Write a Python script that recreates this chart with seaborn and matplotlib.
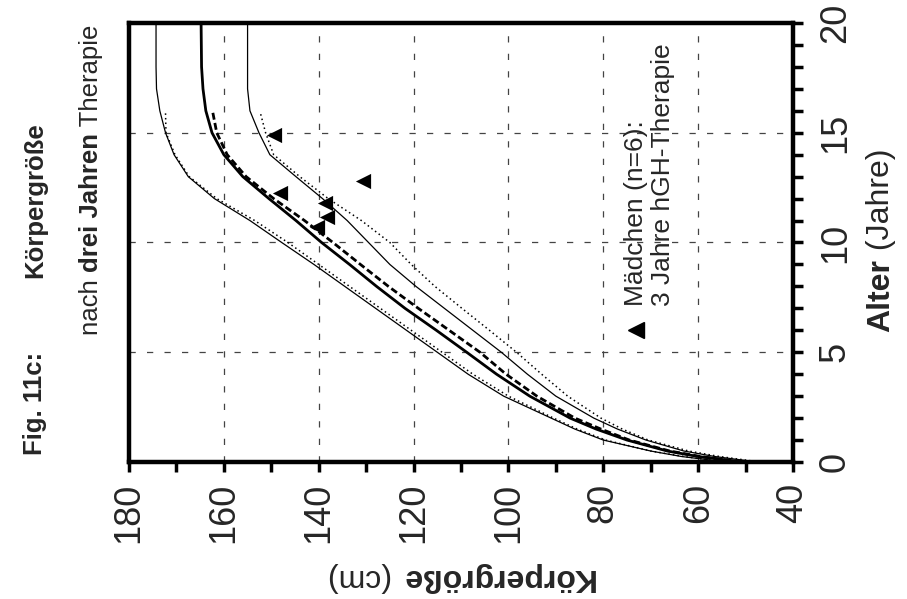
import numpy as np
import pandas as pd
import matplotlib
matplotlib.use("Agg")
import matplotlib.pyplot as plt
import seaborn as sns
from matplotlib.ticker import MultipleLocator
from matplotlib.font_manager import FontProperties

# ---------------- data (age in years, height in cm) ----------------
age_full = [0, 0.25, 0.5, 1, 1.5, 2, 3, 4, 5, 6, 7, 8, 9, 10, 11, 12, 13, 14, 15, 16, 17, 18, 20]
p97 = [54, 63.5, 70, 80, 86, 91, 101, 108.5, 115, 121.5, 128, 134.5, 141, 147.8, 154.5, 162, 167.5,
       170.5, 172.3, 173.5, 174.2, 174.3, 174.3]
p50 = [50.5, 60, 66.5, 75, 81.5, 87, 95.5, 102.5, 108.8, 115.2, 121.8, 127.8, 133.5, 139.4, 144.8,
       150.5, 156, 160, 162.5, 163.8, 164.4, 164.7, 164.8]
p3 = [47.5, 56.5, 63, 71, 77, 82, 90, 96, 101.5, 107.5, 113.5, 119.5, 125, 129.5, 134, 139.2, 144.8,
      150.3, 152.6, 154.5, 155, 155, 155]

age_dash = [0, 0.25, 0.5, 1, 1.5, 2, 3, 4, 5, 6, 7, 8, 9, 10, 11, 12, 13, 14, 15, 16]
mean_dash = [51, 59.5, 66, 74.5, 80.5, 86, 94, 100.5, 106, 112.5, 119, 125.3, 131.2, 137, 143, 149.5,
             155.3, 159.3, 161.5, 162.4]

age_dot = [0, 0.25, 0.5, 1, 1.5, 2, 3, 4, 5, 6, 7, 8, 9, 10, 11, 12, 13, 14, 15, 15.9]
dot_upper = [54.5, 63, 70, 79.5, 85.5, 90.5, 100, 107.5, 114, 120.5, 127, 133.5, 140, 146.5, 153.5,
             161.5, 167.3, 170.3, 172.2, 172.3]
dot_lower = [47, 55.5, 62, 70.5, 76, 80.5, 87.5, 93, 98.3, 104, 109.8, 115.5, 120.5, 125, 131, 138,
             144, 149.5, 151.2, 152.3]

girls_height = [149.4, 148.2, 130.7, 138.7, 138.2, 140.4]
girls_age = [14.9, 12.27, 12.8, 11.78, 11.18, 10.72]

height_ticks = [180, 160, 140, 120, 100, 80, 60, 40]
age_ticks = [0, 5, 10, 15, 20]

# ---------------- style ----------------
FONT = "Liberation Sans"
sns.set_style("white")
plt.rcParams["font.family"] = [FONT, "DejaVu Sans"]

W, H = 907, 599
fig = plt.figure(figsize=(W / 100, H / 100), dpi=100)
ax = fig.add_axes([129 / W, (H - 462) / H, 664 / W, 439 / H])

# curves
sns.lineplot(x=p97, y=age_full, sort=False, estimator=None, color="black", lw=0.9, ax=ax)
sns.lineplot(x=p3, y=age_full, sort=False, estimator=None, color="black", lw=0.9, ax=ax)
sns.lineplot(x=p50, y=age_full, sort=False, estimator=None, color="black", lw=2.0, ax=ax)
sns.lineplot(x=mean_dash, y=age_dash, sort=False, estimator=None, color="black", lw=2.0, ax=ax)
ax.lines[-1].set_dashes([2.5, 1.2])
sns.lineplot(x=dot_upper, y=age_dot, sort=False, estimator=None, color="black", lw=1.1, ax=ax)
ax.lines[-1].set_dashes([1, 2])
sns.lineplot(x=dot_lower, y=age_dot, sort=False, estimator=None, color="black", lw=1.1, ax=ax)
ax.lines[-1].set_dashes([1, 2])

sns.scatterplot(x=girls_height, y=girls_age, marker="<", s=120, color="black",
                edgecolor="black", linewidth=0, ax=ax, zorder=5)

# axes
ax.set_xlim(180, 40)
ax.set_ylim(0, 20)
ax.xaxis.set_major_locator(MultipleLocator(20))
ax.xaxis.set_minor_locator(MultipleLocator(10))
ax.yaxis.set_major_locator(MultipleLocator(5))
ax.yaxis.set_minor_locator(MultipleLocator(1))
ax.yaxis.tick_right()
ax.set_xticks(height_ticks)
ax.set_yticks(age_ticks)
ax.set_xticklabels([str(v) for v in height_ticks])
ax.set_yticklabels([str(v) for v in age_ticks])
ax.set_xlabel("")
ax.set_ylabel("")

ax.grid(True, which="major", color="#444444", lw=0.9, linestyle=(0, (5, 9)))
ax.set_axisbelow(True)
for s in ax.spines.values():
    s.set_visible(True)
    s.set_linewidth(3.2)
    s.set_color("black")

ax.tick_params(which="both", direction="out", length=7, width=2.5, color="black")
ax.tick_params(axis="x", which="both", bottom=True, top=False, labelsize=26, pad=8, labelrotation=90)
ax.tick_params(axis="y", which="both", right=True, left=False, labelsize=26, pad=11,
               labelrotation=90, labelright=True, labelleft=False)
for t in ax.get_yticklabels():
    t.set_va("center")
for t in ax.get_xticklabels() + ax.get_yticklabels():
    t.set_family(FONT)

# legend (rotated)
ax.plot([0.7636], [0.3007], marker="<", ms=11, color="black", ls="none", transform=ax.transAxes,
        clip_on=False)
ax.text(0.7636, 0.3554, "Mädchen (n=6):", transform=ax.transAxes, rotation=90,
        rotation_mode="anchor", ha="left", va="center", fontsize=19, family=FONT)
ax.text(0.8035, 0.3554, "3 Jahre hGH-Therapie", transform=ax.transAxes, rotation=90,
        rotation_mode="anchor", ha="left", va="center", fontsize=19, family=FONT)

# rich text helper (mixed weights along a rotated baseline)
fig.canvas.draw()
renderer = fig.canvas.get_renderer()


def rich(x, y, pieces, size, rotation, center=False):
    widths = []
    for s, wt in pieces:
        fp = FontProperties(family=FONT, size=size, weight=wt)
        w1, _, _ = renderer.get_text_width_height_descent("|" + s + "|", fp, ismath=False)
        w0, _, _ = renderer.get_text_width_height_descent("||", fp, ismath=False)
        widths.append(w1 - w0)
    total = sum(widths)
    d = (0, 1) if rotation == 90 else (-1, 0)
    px, py = x, y
    if center:
        px, py = x - d[0] * total / 2, y - d[1] * total / 2
    for (s, wt), w in zip(pieces, widths):
        fig.text(px / W, py / H, s, rotation=rotation, rotation_mode="anchor", ha="left",
                 va="center", fontsize=size, fontweight=wt, family=FONT)
        px, py = px + d[0] * w, py + d[1] * w


# title (image coords converted: y_bottom = H - y_img)
rich(35, H - 455, [("Fig. 11c:", "bold")], 18.5, 90)
rich(35, H - 278, [("Körpergröße", "bold")], 18.5, 90)
rich(91, H - 335, [("nach ", "normal"), ("drei Jahren", "bold"), (" Therapie", "normal")], 18.5, 90)

# axis labels
rich(881, H - 240, [("Alter", "bold"), (" (Jahre)", "normal")], 23, 90, center=True)
rich(461, H - 577, [("Körpergröße", "bold"), (" (cm)", "normal")], 23, 180, center=True)

fig.savefig("out.png", dpi=100)
